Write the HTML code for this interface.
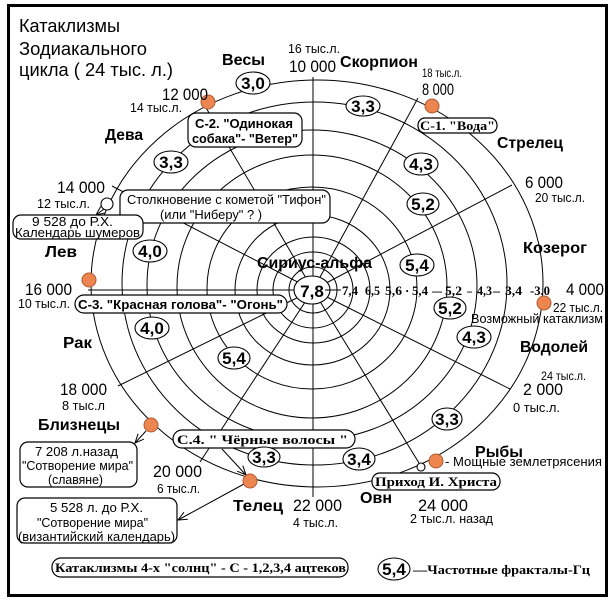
<!DOCTYPE html>
<html><head><meta charset="utf-8"><style>
html,body{margin:0;padding:0;background:#fff;}
svg{display:block;}
text{font-family:"Liberation Sans",sans-serif;fill:#000;}
.b{font-weight:bold;font-size:16px;}
.n{font-size:17px;}
.s{font-size:12.5px;}
.sf{font-family:"Liberation Serif",serif;font-weight:bold;font-size:13px;}
.e{font-weight:bold;font-size:17px;}
</style></head><body>
<svg width="616" height="599" viewBox="0 0 616 599" xmlns="http://www.w3.org/2000/svg">
<defs>
<marker id="a" markerWidth="10" markerHeight="10" refX="9" refY="5" orient="auto" markerUnits="userSpaceOnUse"><path d="M0,1 L9,5 L0,9" fill="none" stroke="#000" stroke-width="1"/></marker>
</defs>
<rect width="616" height="599" fill="#fff"/>
<rect x="8.5" y="5.5" width="598" height="590" fill="none" stroke="#000" stroke-width="3"/>

<g fill="none" stroke="#000" stroke-width="1">
<ellipse cx="313" cy="290" rx="24" ry="23"/>
<ellipse cx="313" cy="290" rx="40" ry="38"/>
<ellipse cx="313.5" cy="290" rx="56.5" ry="53"/>
<ellipse cx="312.5" cy="290" rx="77.5" ry="75"/>
<ellipse cx="312" cy="288" rx="105" ry="101"/>
<ellipse cx="312" cy="286.5" rx="135" ry="131.5"/>
<ellipse cx="312" cy="285" rx="165" ry="155"/>
<ellipse cx="314.5" cy="283.5" rx="192.5" ry="181.5"/>
<ellipse cx="317" cy="283.5" rx="226" ry="203.5"/>
<line x1="313" y1="77" x2="313" y2="497"/>
<line x1="313" y1="290" x2="512" y2="185"/>
<line x1="313" y1="290" x2="418" y2="98"/>
<line x1="313" y1="290" x2="205" y2="106"/>
<line x1="313" y1="290" x2="112" y2="186"/>
<line x1="313" y1="290" x2="88" y2="290"/>
<line x1="313" y1="290" x2="118" y2="386"/>
<line x1="313" y1="290" x2="200" y2="462"/>
<line x1="313" y1="290" x2="419" y2="463"/>
<line x1="313" y1="290" x2="510" y2="389"/>
<line x1="104" y1="209" x2="96" y2="215" marker-end="url(#a)"/>
<line x1="146" y1="431" x2="135" y2="443" marker-end="url(#a)"/>
<line x1="244" y1="484" x2="178" y2="520" marker-end="url(#a)"/>
<line x1="222" y1="449" x2="246" y2="475" marker-end="url(#a)"/>
</g>

<!-- boxes -->
<g fill="#fff" stroke="#000" stroke-width="1.2">
<rect x="418" y="118" width="79" height="15" rx="7"/>
<rect x="188" y="113" width="114" height="34" rx="8"/>
<rect x="120" y="190" width="210" height="33" rx="8"/>
<rect x="13" y="215" width="130" height="24" rx="8"/>
<rect x="75" y="295" width="212" height="18" rx="9"/>
<rect x="173" y="430" width="182" height="18" rx="9"/>
<rect x="372" y="473" width="128" height="17" rx="8"/>
<rect x="20" y="442" width="117" height="45" rx="8"/>
<rect x="17" y="498" width="160" height="45" rx="8"/>
<rect x="52" y="558" width="296" height="19" rx="9"/>
</g>

<!-- ring value ellipses -->
<g fill="#fff" stroke="#000" stroke-width="1.1">
<ellipse cx="312" cy="290" rx="18" ry="14"/>
<ellipse cx="253" cy="83" rx="17" ry="11"/>
<ellipse cx="363" cy="106" rx="17" ry="10"/>
<ellipse cx="171" cy="162" rx="17" ry="11"/>
<ellipse cx="421" cy="164" rx="17" ry="11"/>
<ellipse cx="423" cy="204" rx="16" ry="11"/>
<ellipse cx="150" cy="251" rx="17" ry="11"/>
<ellipse cx="417" cy="265" rx="17" ry="11"/>
<ellipse cx="450" cy="308" rx="16" ry="11"/>
<ellipse cx="152" cy="328" rx="17" ry="11"/>
<ellipse cx="474" cy="337" rx="17" ry="11"/>
<ellipse cx="234" cy="358" rx="16" ry="11"/>
<ellipse cx="447" cy="419" rx="15" ry="11"/>
<ellipse cx="359" cy="459" rx="16" ry="11"/>
<ellipse cx="264" cy="457" rx="16" ry="10"/>
<ellipse cx="394" cy="569" rx="16" ry="11"/>
<circle cx="107" cy="204" r="6"/>
<circle cx="421" cy="467" r="4"/>
</g>
<line x1="325" y1="290" x2="341" y2="290" stroke="#000"/>

<!-- orange dots -->
<g fill="#ec8550" stroke="#b05a30" stroke-width="1">
<circle cx="208" cy="102" r="7"/>
<circle cx="432" cy="106" r="7"/>
<circle cx="89" cy="280" r="7"/>
<circle cx="544" cy="303" r="7"/>
<circle cx="151" cy="425" r="7"/>
<circle cx="250" cy="481" r="7"/>
<circle cx="436" cy="461" r="7"/>
</g>

<!-- title -->
<text x="19" y="32" font-size="18" textLength="101" lengthAdjust="spacingAndGlyphs">Катаклизмы</text>
<text x="19" y="55" font-size="18" textLength="128" lengthAdjust="spacingAndGlyphs">Зодиакального</text>
<text x="19" y="76" font-size="18" textLength="154" lengthAdjust="spacingAndGlyphs">цикла ( 24 тыс. л.)</text>

<!-- zodiac names -->
<text class="b" x="222" y="65" textLength="43" lengthAdjust="spacingAndGlyphs">Весы</text>
<text class="b" x="340" y="67" textLength="78" lengthAdjust="spacingAndGlyphs">Скорпион</text>
<text class="b" x="497" y="148" textLength="66" lengthAdjust="spacingAndGlyphs">Стрелец</text>
<text class="b" x="523" y="253" textLength="64" lengthAdjust="spacingAndGlyphs">Козерог</text>
<text class="b" x="520" y="352" textLength="68" lengthAdjust="spacingAndGlyphs">Водолей</text>
<text class="b" x="475" y="457" textLength="48" lengthAdjust="spacingAndGlyphs">Рыбы</text>
<text class="b" x="360" y="503" textLength="32" lengthAdjust="spacingAndGlyphs">Овн</text>
<text class="b" x="233" y="511" textLength="50" lengthAdjust="spacingAndGlyphs">Телец</text>
<text class="b" x="38" y="430" textLength="82" lengthAdjust="spacingAndGlyphs">Близнецы</text>
<text class="b" x="63" y="348" textLength="29" lengthAdjust="spacingAndGlyphs">Рак</text>
<text class="b" x="45" y="257" textLength="32" lengthAdjust="spacingAndGlyphs">Лев</text>
<text class="b" x="105" y="140" textLength="38" lengthAdjust="spacingAndGlyphs">Дева</text>
<text class="b" x="257" y="268" textLength="115" lengthAdjust="spacingAndGlyphs">Сириус-альфа</text>

<!-- year numbers -->
<text class="s" x="288" y="53" textLength="52" lengthAdjust="spacingAndGlyphs">16 тыс.л.</text>
<text class="n" x="289" y="72" textLength="47" lengthAdjust="spacingAndGlyphs">10 000</text>
<text x="422" y="77" font-size="11.5" textLength="40" lengthAdjust="spacingAndGlyphs">18 тыс.л.</text>
<text class="n" x="422" y="95" textLength="32" lengthAdjust="spacingAndGlyphs">8 000</text>
<text class="n" x="525" y="188" textLength="38" lengthAdjust="spacingAndGlyphs">6 000</text>
<text class="s" x="535" y="202" textLength="50" lengthAdjust="spacingAndGlyphs">20 тыс.л.</text>
<text class="n" x="566" y="295" textLength="38" lengthAdjust="spacingAndGlyphs">4 000</text>
<text class="s" x="553" y="312" textLength="50" lengthAdjust="spacingAndGlyphs">22 тыс.л.</text>
<text class="s" x="471" y="323" textLength="132" lengthAdjust="spacingAndGlyphs">Возможный катаклизм</text>
<text x="541" y="380" font-size="11.5" textLength="45" lengthAdjust="spacingAndGlyphs">24 тыс.л.</text>
<text class="n" x="523" y="395" textLength="40" lengthAdjust="spacingAndGlyphs">2 000</text>
<text class="s" x="513" y="412" textLength="47" lengthAdjust="spacingAndGlyphs">0 тыс.л.</text>
<text x="445" y="466" font-size="13" textLength="157" lengthAdjust="spacingAndGlyphs">- Мощные землетрясения</text>
<text class="n" x="418" y="511" textLength="50" lengthAdjust="spacingAndGlyphs">24 000</text>
<text class="s" x="410" y="523" textLength="83" lengthAdjust="spacingAndGlyphs">2 тыс.л. назад</text>
<text class="n" x="293" y="511" textLength="49" lengthAdjust="spacingAndGlyphs">22 000</text>
<text class="s" x="293" y="527" textLength="45" lengthAdjust="spacingAndGlyphs">4 тыс.л.</text>
<text class="n" x="153" y="477" textLength="49" lengthAdjust="spacingAndGlyphs">20 000</text>
<text class="s" x="157" y="493" textLength="43" lengthAdjust="spacingAndGlyphs">6 тыс.л.</text>
<text class="n" x="60" y="395" textLength="47" lengthAdjust="spacingAndGlyphs">18 000</text>
<text class="s" x="62" y="410" textLength="43" lengthAdjust="spacingAndGlyphs">8 тыс.л</text>
<text class="n" x="25" y="295" textLength="47" lengthAdjust="spacingAndGlyphs">16 000</text>
<text class="s" x="18" y="308" textLength="52" lengthAdjust="spacingAndGlyphs">10 тыс.л.</text>
<text class="n" x="57" y="193" textLength="48" lengthAdjust="spacingAndGlyphs">14 000</text>
<text class="s" x="37" y="208" textLength="53" lengthAdjust="spacingAndGlyphs">12 тыс.л.</text>
<text class="n" x="162" y="100" textLength="46" lengthAdjust="spacingAndGlyphs">12 000</text>
<text class="s" x="130" y="112" textLength="52" lengthAdjust="spacingAndGlyphs">14 тыс.л.</text>

<!-- box texts -->
<text class="sf" x="420" y="130" textLength="75" lengthAdjust="spacingAndGlyphs">С-1. "Вода"</text>
<text x="195" y="128" font-size="13" font-weight="bold" textLength="98" lengthAdjust="spacingAndGlyphs">С-2. "Одинокая</text>
<text x="192" y="143" font-size="13" font-weight="bold" textLength="106" lengthAdjust="spacingAndGlyphs">собака"- "Ветер"</text>
<text x="127" y="204" font-size="13" textLength="199" lengthAdjust="spacingAndGlyphs">Столкновение с кометой "Тифон"</text>
<text x="160" y="219" font-size="13" textLength="102" lengthAdjust="spacingAndGlyphs">(или "Ниберу" ? )</text>
<text x="32" y="226" font-size="12.5" textLength="81" lengthAdjust="spacingAndGlyphs">9 528 до Р.Х.</text>
<text x="15" y="237" font-size="12.5" textLength="125" lengthAdjust="spacingAndGlyphs">Календарь шумеров</text>
<text x="78" y="309" font-size="13" font-weight="bold" textLength="205" lengthAdjust="spacingAndGlyphs">С-3. "Красная голова"- "Огонь"</text>
<text class="sf" x="177" y="444" font-size="14" textLength="171" lengthAdjust="spacingAndGlyphs">С.4. " Чёрные волосы "</text>
<text class="sf" x="375" y="486" textLength="122" lengthAdjust="spacingAndGlyphs">Приход И. Христа</text>
<text x="35" y="456" font-size="12.5" textLength="83" lengthAdjust="spacingAndGlyphs">7 208 л.назад</text>
<text x="22" y="470" font-size="12.5" textLength="111" lengthAdjust="spacingAndGlyphs">"Сотворение мира"</text>
<text x="48" y="484" font-size="12.5" textLength="55" lengthAdjust="spacingAndGlyphs">(славяне)</text>
<text x="50" y="512" font-size="12.5" textLength="93" lengthAdjust="spacingAndGlyphs">5 528 л. до Р.Х.</text>
<text x="37" y="527" font-size="12.5" textLength="111" lengthAdjust="spacingAndGlyphs">"Сотворение мира"</text>
<text x="18" y="541" font-size="12.5" textLength="157" lengthAdjust="spacingAndGlyphs">(византийский календарь)</text>
<text class="sf" x="55" y="572" textLength="291" lengthAdjust="spacingAndGlyphs">Катаклизмы 4-х "солнц" - С - 1,2,3,4 ацтеков</text>
<text class="sf" x="413" y="574" textLength="177" lengthAdjust="spacingAndGlyphs">—Частотные  фракталы-Гц</text>

<!-- ellipse labels -->
<g class="e" text-anchor="middle">
<text class="e" x="312" y="297" font-size="19">7,8</text>
<text class="e" x="253" y="89">3,0</text>
<text class="e" x="363" y="112">3,3</text>
<text class="e" x="171" y="168">3,3</text>
<text class="e" x="421" y="170">4,3</text>
<text class="e" x="423" y="210">5,2</text>
<text class="e" x="150" y="257">4,0</text>
<text class="e" x="417" y="271">5,4</text>
<text class="e" x="450" y="314">5,2</text>
<text class="e" x="152" y="334">4,0</text>
<text class="e" x="474" y="343">4,3</text>
<text class="e" x="234" y="364">5,4</text>
<text class="e" x="447" y="425">3,3</text>
<text class="e" x="359" y="465">3,4</text>
<text class="e" x="264" y="463">3,3</text>
<text class="e" x="394" y="575">5,4</text>
</g>

<!-- axis values -->
<g class="sf">
<text class="sf" x="342" y="295" textLength="16" lengthAdjust="spacingAndGlyphs">7,4</text>
<text class="sf" x="365" y="295" textLength="15" lengthAdjust="spacingAndGlyphs">6,5</text>
<text class="sf" x="385" y="295" textLength="17" lengthAdjust="spacingAndGlyphs">5,6</text>
<text class="sf" x="405" y="295">·</text>
<text class="sf" x="412" y="295" textLength="16" lengthAdjust="spacingAndGlyphs">5,4</text>
<text class="sf" x="432" y="295" textLength="10" lengthAdjust="spacingAndGlyphs">—</text>
<text class="sf" x="445" y="295" textLength="17" lengthAdjust="spacingAndGlyphs">5,2</text>
<text class="sf" x="467" y="295" textLength="5" lengthAdjust="spacingAndGlyphs">–</text>
<text class="sf" x="477" y="295" textLength="15" lengthAdjust="spacingAndGlyphs">4,3</text>
<text class="sf" x="493" y="295" textLength="7" lengthAdjust="spacingAndGlyphs">–</text>
<text class="sf" x="505" y="295" textLength="17" lengthAdjust="spacingAndGlyphs">3,4</text>
<text class="sf" x="530" y="295" textLength="20" lengthAdjust="spacingAndGlyphs">-3.0</text>
</g>
</svg>
</body></html>
